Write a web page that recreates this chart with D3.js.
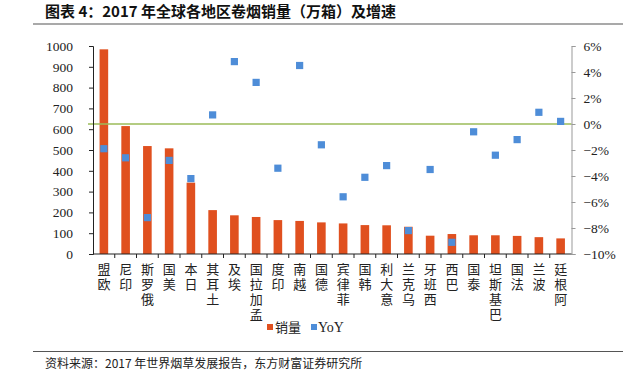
<!DOCTYPE html>
<html>
<head>
<meta charset="utf-8">
<script src="https://cdn.jsdelivr.net/npm/d3@7"></script>
<style>
  body { margin: 0; background: #fff; }
</style>
</head>
<body>
<div id="chart-area"></div>
<script>
// data
const countries = ["欧盟", "印尼", "俄罗斯", "美国", "日本", "土耳其", "埃及", "孟加拉国", "印度", "越南", "德国",
  "菲律宾", "韩国", "意大利", "乌克兰", "西班牙", "巴西", "泰国", "巴基斯坦", "法国", "波兰", "阿根廷"]
const sales = [984, 615, 519, 508, 343, 211, 186, 178, 163, 159, 152, 147, 139, 138, 131, 88, 96, 90, 90, 87, 81, 75]
const yoy = [-1.9, -2.6, -7.2, -2.8, -4.2, 0.7, 4.8, 3.2, -3.4, 4.5, -1.6, -5.6, -4.1, -3.2, -8.2, -3.5, -9.1, -0.6, -2.4, -1.2, 0.9, 0.2]
const leftTicks = [0, 100, 200, 300, 400, 500, 600, 700, 800, 900, 1000]
const rightTicks = [6, 4, 2, 0, -2, -4, -6, -8, -10]

const W = 628, H = 385
const pl = 93, pr = 571.5, pt = 46, pb = 254
const orange = "#E0501F", blue = "#4E8DD8"
const serif = '"Liberation Serif", "DejaVu Serif", serif'
const cjk = '"Noto Sans CJK SC", sans-serif'

const svg = d3.select("#chart-area").append("svg").attr("width", W).attr("height", H)

// title + rules
svg.append("text").attr("x", 45).attr("y", 17)
  .style("font-family", cjk).style("font-size", "15px").style("font-weight", "bold").attr("fill", "#111")
  .text("图表 4：2017 年全球各地区卷烟销量（万箱）及增速")
svg.append("line").attr("x1", 33).attr("x2", 623).attr("y1", 24).attr("y2", 24)
  .attr("stroke", "#555").attr("stroke-width", 1.2)
svg.append("line").attr("x1", 33).attr("x2", 623).attr("y1", 351.5).attr("y2", 351.5)
  .attr("stroke", "#555").attr("stroke-width", 1.2)
svg.append("text").attr("x", 45).attr("y", 368)
  .style("font-family", cjk).style("font-size", "12px").attr("fill", "#222")
  .text("资料来源：2017 年世界烟草发展报告，东方财富证券研究所")

// scales
const xb = d3.scaleBand().domain(countries).range([pl, pr])
const y = d3.scaleLinear().domain([0, 1000]).range([pb, pt])
const y2 = d3.scaleLinear().domain([-10, 6]).range([pb, pt])

// bars
svg.selectAll("rect.bar").data(sales).enter()
  .append("rect").attr("class", "bar")
  .attr("x", (d, i) => xb(countries[i]) + xb.bandwidth() / 2 - 4.3)
  .attr("y", d => y(d))
  .attr("width", 8.6)
  .attr("height", d => pb - y(d))
  .attr("fill", orange)

// zero line
svg.append("line").attr("x1", 88).attr("x2", pr).attr("y1", y2(0)).attr("y2", y2(0))
  .attr("stroke", "#9BBB59").attr("stroke-width", 1.3)

// yoy points
svg.selectAll("rect.pt").data(yoy).enter()
  .append("rect").attr("class", "pt")
  .attr("x", (d, i) => xb(countries[i]) + xb.bandwidth() / 2 - 3.6)
  .attr("y", d => y2(d) - 3.6)
  .attr("width", 7.2).attr("height", 7.2)
  .attr("fill", blue)

// axes
const gl = svg.append("g").attr("transform", `translate(${pl},0)`)
  .call(d3.axisLeft(y).tickValues(leftTicks).tickSize(4).tickPadding(16).tickFormat(d3.format("d")))
gl.select(".domain").attr("stroke", "#222")
gl.selectAll(".tick line").attr("stroke", "#222")
gl.selectAll("text").style("font-family", serif).style("font-size", "13.5px").attr("fill", "#222")

const gr = svg.append("g").attr("transform", `translate(${pr},0)`)
  .call(d3.axisRight(y2).tickValues(rightTicks).tickSize(4).tickPadding(8)
    .tickFormat(d => (d < 0 ? "−" + (-d) : d) + "%"))
gr.select(".domain").attr("stroke", "#999")
gr.selectAll(".tick line").attr("stroke", "#999")
gr.selectAll("text").style("font-family", serif).style("font-size", "13.5px").attr("fill", "#222")

// x axis: line + boundary ticks
svg.append("line").attr("x1", pl).attr("x2", pr).attr("y1", pb).attr("y2", pb)
  .attr("stroke", "#222").attr("stroke-width", 1.2)
svg.selectAll("line.xt").data(countries.slice(1)).enter()
  .append("line").attr("class", "xt")
  .attr("x1", d => xb(d)).attr("x2", d => xb(d))
  .attr("y1", pb).attr("y2", pb + 4)
  .attr("stroke", "#222")

// category labels: one glyph per text, stacked so each name reads bottom to top
countries.forEach(c => {
  const cx = xb(c) + xb.bandwidth() / 2
  svg.selectAll(null).data(c.split("").reverse()).enter()
    .append("text").attr("class", "cat")
    .attr("x", cx)
    .attr("y", (d, j) => 263 + j * 15)
    .style("writing-mode", "vertical-rl")
    .style("text-orientation", "upright")
    .style("font-family", cjk).style("font-size", "13px").attr("fill", "#222")
    .text(d => d)
})

// legend
const lg = svg.append("g")
lg.append("rect").attr("x", 267).attr("y", 324).attr("width", 6).attr("height", 6).attr("fill", orange)
lg.append("text").attr("x", 275).attr("y", 332)
  .style("font-family", cjk).style("font-size", "13px").attr("fill", "#222").text("销量")
lg.append("rect").attr("x", 311).attr("y", 324).attr("width", 6).attr("height", 6).attr("fill", blue)
lg.append("text").attr("x", 318).attr("y", 332)
  .style("font-family", serif).style("font-size", "14px").attr("fill", "#222").text("YoY")
</script>
</body>
</html>
